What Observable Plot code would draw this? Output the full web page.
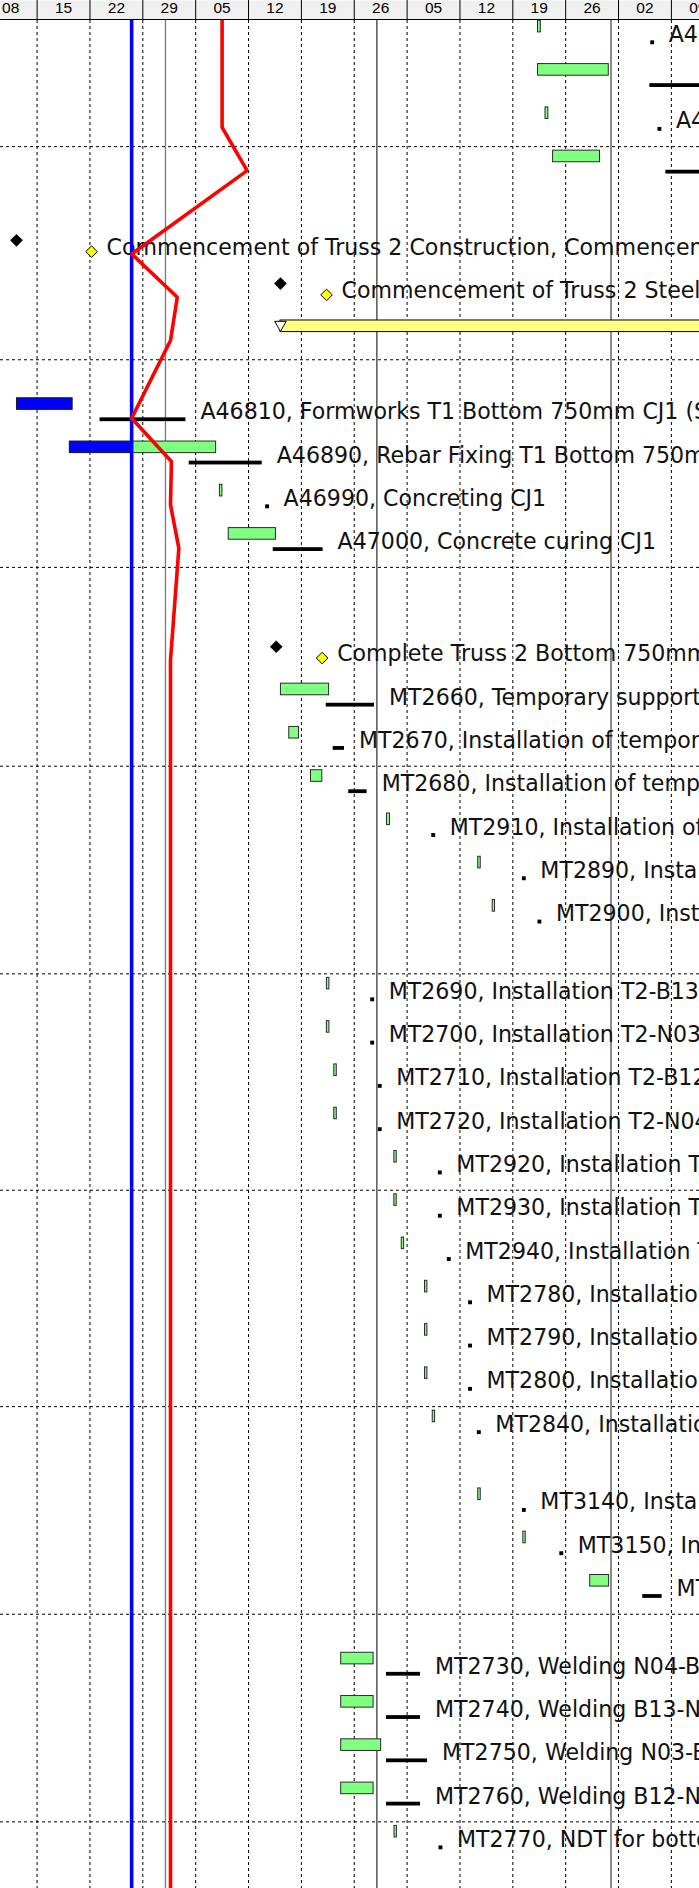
<!DOCTYPE html>
<html>
<head>
<meta charset="utf-8">
<script src="https://cdn.jsdelivr.net/npm/d3@7"></script>
<script src="https://cdn.jsdelivr.net/npm/@observablehq/plot@0.6"></script>
<style>
  html, body { margin: 0; padding: 0; background: #fff; overflow: hidden; }
  #chart svg { display: block; }
</style>
</head>
<body>
<div id="chart"></div>
<script>
// ---------- data ----------
const weekStarts = ["2018-01-08","2018-01-15","2018-01-22","2018-01-29","2018-02-05","2018-02-12","2018-02-19","2018-02-26","2018-03-05","2018-03-12","2018-03-19","2018-03-26","2018-04-02","2018-04-09"];
const weekLabels = ["08","15","22","29","05","12","19","26","05","12","19","26","02","09"];
const monthStarts = ["2018-02-01","2018-03-01","2018-04-01"];
const dataDate = "2018-01-27T12:30";

const rows = [
  {id: "prev",   kind: "act",     label: ""},
  {id: "A46740", kind: "act",     label: "A46740, Concreting CJ2"},
  {id: "A46750", kind: "act",     label: "A46750, Concrete curing CJ2"},
  {id: "A46760", kind: "act",     label: "A46760, Concreting CJ3"},
  {id: "A46770", kind: "act",     label: "A46770, Concrete curing CJ3"},
  {id: "WBS-1",  kind: "wbsTall", label: ""},
  {id: "M2700",  kind: "ms",      label: "Commencement of Truss 2 Construction, Commencement of Truss 2 Construction"},
  {id: "M2710",  kind: "ms",      label: "Commencement of Truss 2 Steel Erection"},
  {id: "SUM-1",  kind: "sum",     label: ""},
  {id: "WBS-2",  kind: "wbs",     label: ""},
  {id: "A46810", kind: "act",     label: "A46810, Formworks T1 Bottom 750mm CJ1 (Side Forms)"},
  {id: "A46890", kind: "act",     label: "A46890, Rebar Fixing T1 Bottom 750mm CJ1"},
  {id: "A46990", kind: "act",     label: "A46990, Concreting CJ1"},
  {id: "A47000", kind: "act",     label: "A47000, Concrete curing CJ1"},
  {id: "WBS-3",  kind: "wbs",     label: ""},
  {id: "WBS-4",  kind: "wbs",     label: ""},
  {id: "M2720",  kind: "ms",      label: "Complete Truss 2 Bottom 750mm Concrete"},
  {id: "MT2660", kind: "act",     label: "MT2660, Temporary support for Truss 2"},
  {id: "MT2670", kind: "act",     label: "MT2670, Installation of temporary support S1"},
  {id: "MT2680", kind: "act",     label: "MT2680, Installation of temporary support S2"},
  {id: "MT2910", kind: "act",     label: "MT2910, Installation of T2-N01"},
  {id: "MT2890", kind: "act",     label: "MT2890, Installation T2-B11"},
  {id: "MT2900", kind: "act",     label: "MT2900, Installation T2-N02"},
  {id: "WBS-5",  kind: "wbs",     label: ""},
  {id: "MT2690", kind: "act",     label: "MT2690, Installation T2-B13"},
  {id: "MT2700", kind: "act",     label: "MT2700, Installation T2-N03"},
  {id: "MT2710", kind: "act",     label: "MT2710, Installation T2-B12"},
  {id: "MT2720", kind: "act",     label: "MT2720, Installation T2-N04"},
  {id: "MT2920", kind: "act",     label: "MT2920, Installation T2-B14"},
  {id: "MT2930", kind: "act",     label: "MT2930, Installation T2-N05"},
  {id: "MT2940", kind: "act",     label: "MT2940, Installation T2-B15"},
  {id: "MT2780", kind: "act",     label: "MT2780, Installation T2-N06"},
  {id: "MT2790", kind: "act",     label: "MT2790, Installation T2-B16"},
  {id: "MT2800", kind: "act",     label: "MT2800, Installation T2-N07"},
  {id: "MT2840", kind: "act",     label: "MT2840, Installation T2-B17"},
  {id: "WBS-6",  kind: "wbs",     label: ""},
  {id: "MT3140", kind: "act",     label: "MT3140, Installation T2-N08"},
  {id: "MT3150", kind: "act",     label: "MT3150, Installation T2-B18"},
  {id: "MT3160", kind: "act",     label: "MT3160, Welding T2-N08"},
  {id: "WBS-7",  kind: "wbs",     label: ""},
  {id: "MT2730", kind: "act",     label: "MT2730, Welding N04-B13"},
  {id: "MT2740", kind: "act",     label: "MT2740, Welding B13-N03"},
  {id: "MT2750", kind: "act",     label: "MT2750, Welding N03-B12"},
  {id: "MT2760", kind: "act",     label: "MT2760, Welding B12-N04"},
  {id: "MT2770", kind: "act",     label: "MT2770, NDT for bottom chord welding"},
  {id: "WBS-8",  kind: "wbs",     label: ""},
  {id: "next",   kind: "act",     label: ""}
];

// current schedule bars (green): [id, start, finish]
const currentBars = [
  ["A46740","2018-03-22T08:00","2018-03-22T17:00"],
  ["A46750","2018-03-22T08:00","2018-03-31T17:00"],
  ["A46760","2018-03-23T08:00","2018-03-23T17:00"],
  ["A46770","2018-03-24T08:00","2018-03-30T13:00"],
  ["A46890","2018-01-27T12:30","2018-02-07T17:00"],
  ["A46990","2018-02-08T05:00","2018-02-08T13:00"],
  ["A47000","2018-02-09T09:00","2018-02-15T15:00"],
  ["MT2660","2018-02-16T07:00","2018-02-22T16:00"],
  ["MT2670","2018-02-17T09:30","2018-02-18T16:30"],
  ["MT2680","2018-02-20T06:30","2018-02-21T18:30"],
  ["MT2910","2018-03-02T08:00","2018-03-02T17:30"],
  ["MT2890","2018-03-14T10:00","2018-03-14T18:00"],
  ["MT2900","2018-03-16T08:00","2018-03-16T15:30"],
  ["MT2690","2018-02-22T09:00","2018-02-22T17:00"],
  ["MT2700","2018-02-22T09:00","2018-02-22T17:00"],
  ["MT2710","2018-02-23T08:30","2018-02-23T16:30"],
  ["MT2720","2018-02-23T08:30","2018-02-23T16:30"],
  ["MT2920","2018-03-03T07:30","2018-03-03T15:00"],
  ["MT2930","2018-03-03T07:30","2018-03-03T15:00"],
  ["MT2940","2018-03-04T07:00","2018-03-04T14:30"],
  ["MT2780","2018-03-07T09:00","2018-03-07T16:30"],
  ["MT2790","2018-03-07T09:00","2018-03-07T16:30"],
  ["MT2800","2018-03-07T09:00","2018-03-07T16:30"],
  ["MT2840","2018-03-08T09:30","2018-03-08T17:00"],
  ["MT3140","2018-03-14T10:00","2018-03-14T18:00"],
  ["MT3150","2018-03-20T09:30","2018-03-20T17:00"],
  ["MT3160","2018-03-29T06:00","2018-03-31T18:00"],
  ["MT2730","2018-02-24T06:30","2018-02-28T13:30"],
  ["MT2740","2018-02-24T06:30","2018-02-28T13:30"],
  ["MT2750","2018-02-24T06:30","2018-03-01T13:30"],
  ["MT2760","2018-02-24T06:30","2018-02-28T13:30"],
  ["MT2770","2018-03-03T08:00","2018-03-03T15:30"]
];

// actual (completed) portions (blue): [id, start, finish]
const actualBars = [
  ["A46810","2018-01-12T08:00","2018-01-19T17:00"],
  ["A46890","2018-01-19T08:00","2018-01-27T12:30"]
];

// baseline bars (black): [id, start, finish]; equal dates = zero-length baseline
const baselineBars = [
  ["A46740","2018-04-06T11:00","2018-04-06T11:00"],
  ["A46750","2018-04-06T03:30","2018-04-20T17:00"],
  ["A46760","2018-04-07T10:00","2018-04-07T10:00"],
  ["A46770","2018-04-08T06:30","2018-04-20T17:00"],
  ["A46810","2018-01-23T08:00","2018-02-03T17:00"],
  ["A46890","2018-02-04T03:30","2018-02-13T19:30"],
  ["A46990","2018-02-14T11:00","2018-02-14T11:00"],
  ["A47000","2018-02-15T06:30","2018-02-21T21:00"],
  ["MT2660","2018-02-22T07:00","2018-02-28T16:30"],
  ["MT2670","2018-02-23T05:00","2018-02-24T17:00"],
  ["MT2680","2018-02-25T06:30","2018-02-27T17:00"],
  ["MT2910","2018-03-08T11:00","2018-03-08T11:00"],
  ["MT2890","2018-03-20T11:00","2018-03-20T11:00"],
  ["MT2900","2018-03-22T12:30","2018-03-22T12:30"],
  ["MT2690","2018-02-28T09:00","2018-02-28T09:00"],
  ["MT2700","2018-02-28T09:00","2018-02-28T09:00"],
  ["MT2710","2018-03-01T09:00","2018-03-01T09:00"],
  ["MT2720","2018-03-01T09:00","2018-03-01T09:00"],
  ["MT2920","2018-03-09T08:00","2018-03-09T08:00"],
  ["MT2930","2018-03-09T08:00","2018-03-09T08:00"],
  ["MT2940","2018-03-10T12:30","2018-03-10T12:30"],
  ["MT2780","2018-03-13T08:00","2018-03-13T08:00"],
  ["MT2790","2018-03-13T08:00","2018-03-13T08:00"],
  ["MT2800","2018-03-13T08:00","2018-03-13T08:00"],
  ["MT2840","2018-03-14T12:00","2018-03-14T12:00"],
  ["MT3140","2018-03-20T11:00","2018-03-20T11:00"],
  ["MT3150","2018-03-25T10:00","2018-03-25T10:00"],
  ["MT3160","2018-04-05T05:00","2018-04-07T18:30"],
  ["MT2730","2018-03-02T06:30","2018-03-06T18:30"],
  ["MT2740","2018-03-02T06:30","2018-03-06T18:30"],
  ["MT2750","2018-03-02T06:30","2018-03-07T17:00"],
  ["MT2760","2018-03-02T06:30","2018-03-06T18:30"],
  ["MT2770","2018-03-09T10:00","2018-03-09T10:00"]
];

// milestones: [id, current date (black), baseline date (yellow)]
const milestones = [
  ["M2700","2018-01-12T06:30","2018-01-22T05:00"],
  ["M2710","2018-02-16T05:30","2018-02-22T08:00"],
  ["M2720","2018-02-15T16:00","2018-02-21T18:00"]
];

// WBS summary bars (yellow): [id, start, finish]
const summaryBars = [
  ["SUM-1","2018-02-16T05:30","2018-05-31T17:00"]
];

// progress line (red): [id, progress date]
const progressDates = [
  ["prev","2018-02-08T12:00"],["A46740","2018-02-08T12:00"],["A46750","2018-02-08T12:00"],
  ["A46760","2018-02-08T12:00"],["A46770","2018-02-11T19:30"],
  ["M2700","2018-01-27T12:30"],["M2710","2018-02-02T13:30"],["SUM-1","2018-02-01T16:00"],
  ["A46810","2018-01-27T12:30"],["A46890","2018-02-01T19:00"],["A46990","2018-02-01T16:00"],
  ["A47000","2018-02-02T18:30"],["M2720","2018-02-01T16:00"],
  ["MT2660","2018-02-01T16:00"],["MT2670","2018-02-01T16:00"],["MT2680","2018-02-01T16:00"],
  ["MT2910","2018-02-01T16:00"],["MT2890","2018-02-01T16:00"],["MT2900","2018-02-01T16:00"],
  ["MT2690","2018-02-01T16:00"],["MT2700","2018-02-01T16:00"],["MT2710","2018-02-01T16:00"],
  ["MT2720","2018-02-01T16:00"],["MT2920","2018-02-01T16:00"],["MT2930","2018-02-01T16:00"],
  ["MT2940","2018-02-01T16:00"],["MT2780","2018-02-01T16:00"],["MT2790","2018-02-01T16:00"],
  ["MT2800","2018-02-01T16:00"],["MT2840","2018-02-01T16:00"],["MT3140","2018-02-01T16:00"],
  ["MT3150","2018-02-01T16:00"],["MT3160","2018-02-01T16:00"],["MT2730","2018-02-01T16:00"],
  ["MT2740","2018-02-01T16:00"],["MT2750","2018-02-01T16:00"],["MT2760","2018-02-01T16:00"],
  ["MT2770","2018-02-01T16:00"],["next","2018-02-01T16:00"]
];

// ---------- layout ----------
const W = 699, HEADER_H = 20, TOTAL_H = 1888, BODY_H = TOTAL_H - HEADER_H;
const xDomain = [new Date("2018-01-10T03:40Z"), new Date("2018-04-12T17:21Z")];
const T = s => new Date(s.length === 10 ? s + "T00:00Z" : s + "Z");
const DAY = 864e5;

const rowH = {act: 43.28, ms: 43.28, sum: 43.28, wbs: 34.5, wbsTall: 40};
const rowTop = new Map();
let acc = -rowH.act;
rows.forEach((r, i) => { rowTop.set(r.id, acc); r.index = i; acc += rowH[r.kind]; });
const scrollOffset = 3.7;   // first listed activity row starts slightly under the header
const Y = id => rowTop.get(id);

const sightRows = rows.filter(r => r.index % 5 === 4);

// label anchors: text follows the latest-ending bar / symbol of the row
const labelData = [];
rows.forEach(r => {
  if (!r.label) return;
  let best = null;
  const consider = (date, gap) => { const t = T(date); if (!best || t > best.t) best = {t, gap}; };
  if (r.kind === "ms") {
    milestones.filter(m => m[0] === r.id).forEach(m => { consider(m[1], "ms"); consider(m[2], "ms"); });
  } else {
    currentBars.filter(b => b[0] === r.id).forEach(b => consider(b[2], "bar"));
    actualBars.filter(b => b[0] === r.id).forEach(b => consider(b[2], "bar"));
    baselineBars.filter(b => b[0] === r.id).forEach(b => consider(b[2], b[1] === b[2] ? "dot" : "bar"));
  }
  if (best) labelData.push({id: r.id, x: best.t, gap: best.gap, text: r.label});
});
const labelGap = {bar: 14.5, dot: 16.5, ms: 15};

const blBars = baselineBars.filter(b => b[1] !== b[2]);
const blDots = baselineBars.filter(b => b[1] === b[2]);

// ---------- header ----------
const header = Plot.plot({
  width: W, height: HEADER_H, margin: 0,
  x: {type: "utc", domain: xDomain, range: [0, W], axis: null},
  y: {domain: [0, HEADER_H], range: [0, HEADER_H], axis: null},
  marks: [
    Plot.frame({fill: "#f0f0f0", stroke: "none"}),
    Plot.ruleX(weekStarts.map(T), {stroke: "#000", strokeWidth: 1}),
    Plot.ruleY([HEADER_H - 1], {stroke: "#000", strokeWidth: 1}),
    Plot.text(weekStarts, {
      x: d => new Date(+T(d) + 3.5 * DAY), y: 12.8,
      text: (d, i) => weekLabels[i],
      lineAnchor: "bottom", textAnchor: "middle",
      fontSize: 15.5, fontFamily: "Liberation Sans, Arial, sans-serif", fill: "#000"
    })
  ]
});

// ---------- body ----------
const textMarks = Object.keys(labelGap).map(g =>
  Plot.text(labelData.filter(d => d.gap === g), {
    x: "x", y: d => Y(d.id) + 25, dx: labelGap[g], text: "text",
    textAnchor: "start", lineAnchor: "bottom", fontSize: 22.1,
    fontFamily: "DejaVu Sans, Verdana, sans-serif", fill: "#111"
  })
);

const body = Plot.plot({
  width: W, height: BODY_H, margin: 0,
  x: {type: "utc", domain: xDomain, range: [0, W], axis: null},
  y: {type: "linear", domain: [scrollOffset, scrollOffset + BODY_H], range: [0, BODY_H], axis: null},
  style: {background: "#fff"},
  marks: [
    Plot.ruleX(weekStarts.map(T), {stroke: "#000", strokeWidth: 1, strokeDasharray: "3,3"}),
    Plot.ruleX(monthStarts, {x: d => T(d), stroke: (d, i) => ["#7a7a7a", "#000", "#8a8a8a"][i], strokeWidth: (d, i) => [1.3, 1, 2][i]}),
    Plot.ruleY(sightRows, {y: r => Y(r.id), stroke: "#000", strokeWidth: 1, strokeDasharray: "3,3"}),
    Plot.rect(summaryBars, {x1: d => T(d[1]), x2: d => T(d[2]), y1: d => Y(d[0]) + 4, y2: d => Y(d[0]) + 15.6, fill: "#ffff80", stroke: "#000", strokeWidth: 1}),
    Plot.dot(summaryBars, {x: d => T(d[1]), y: d => Y(d[0]) + 8.2, symbol: "triangle", rotate: 180, r: 4.3, fill: "#fff", stroke: "#000", strokeWidth: 1}),
    Plot.rect(currentBars, {x1: d => T(d[1]), x2: d => T(d[2]), y1: d => Y(d[0]) + 4, y2: d => Y(d[0]) + 15.6, fill: "#80ff80", stroke: "#2a2a2a", strokeWidth: 1}),
    Plot.rect(actualBars, {x1: d => T(d[1]), x2: d => T(d[2]), y1: d => Y(d[0]) + 4, y2: d => Y(d[0]) + 15.6, fill: "#0000ff", stroke: "#1a1a1a", strokeWidth: 1}),
    Plot.rect(blBars, {x1: d => T(d[1]), x2: d => T(d[2]), y1: d => Y(d[0]) + 23.6, y2: d => Y(d[0]) + 27.4, fill: "#000"}),
    Plot.dot(blDots, {x: d => T(d[1]), y: d => Y(d[0]) + 25.5, symbol: "square", r: 2.2, fill: "#000", stroke: "none"}),
    Plot.dot(milestones, {x: d => T(d[1]), y: d => Y(d[0]) + 10.4, symbol: "diamond2", r: 5.7, fill: "#000", stroke: "none"}),
    Plot.dot(milestones, {x: d => T(d[2]), y: d => Y(d[0]) + 21.7, symbol: "diamond2", r: 5.2, fill: "#ffff00", stroke: "#000", strokeWidth: 1}),
    ...textMarks,
    Plot.ruleX([T(dataDate)], {stroke: "#0000ff", strokeWidth: 3.6}),
    Plot.line(progressDates, {x: d => T(d[1]), y: d => Y(d[0]) + 24, stroke: "#ff0000", strokeWidth: 3.6, strokeLinejoin: "miter", strokeLinecap: "butt"})
  ]
});

const chart = document.getElementById("chart");
chart.appendChild(header);
chart.appendChild(body);
</script>
</body>
</html>
